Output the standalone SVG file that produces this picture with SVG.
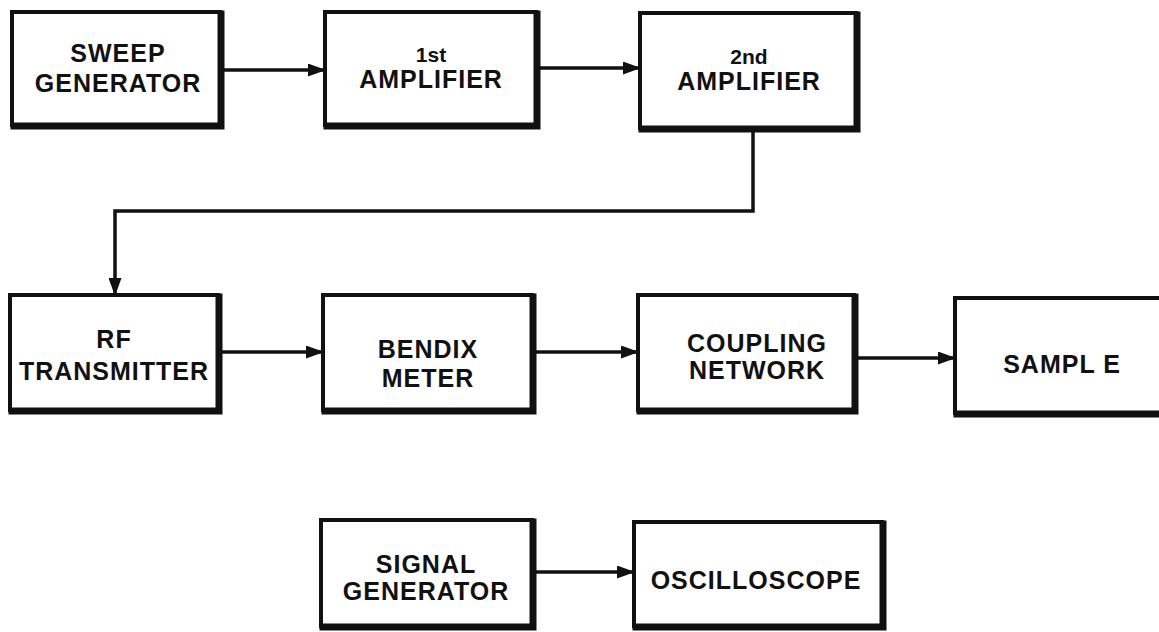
<svg xmlns="http://www.w3.org/2000/svg" width="1159" height="632" viewBox="0 0 1159 632">
<style>
.box{fill:#fff;stroke:#111;stroke-width:4}
.sh{fill:none;stroke:#111;stroke-width:7;stroke-linecap:square}
.t{font-family:"Liberation Sans",Arial,sans-serif;font-weight:bold;font-size:25px;fill:#111;text-anchor:middle;letter-spacing:1px}
.s{font-size:21px;letter-spacing:0}
.c{fill:none;stroke:#111;stroke-width:3.5}
</style>
<defs>
<marker id="ah" viewBox="0 0 18 13" refX="17" refY="6.5" markerWidth="18" markerHeight="13" markerUnits="userSpaceOnUse" orient="auto">
<path d="M0,0 L18,6.5 L0,13 Z" fill="#111"/>
</marker>
</defs>
<rect width="1159" height="632" fill="#fff"/>
<g id="connectors">
<line class="c" x1="222" y1="70" x2="325" y2="70" marker-end="url(#ah)"/>
<line class="c" x1="538" y1="68" x2="640" y2="68" marker-end="url(#ah)"/>
<polyline class="c" points="753,130 753,211 115,211 115,295" marker-end="url(#ah)"/>
<line class="c" x1="220" y1="352" x2="323" y2="352" marker-end="url(#ah)"/>
<line class="c" x1="534" y1="352" x2="638" y2="352" marker-end="url(#ah)"/>
<line class="c" x1="856" y1="358" x2="955" y2="358" marker-end="url(#ah)"/>
<line class="c" x1="533" y1="572" x2="634" y2="572" marker-end="url(#ah)"/>
</g>
<g id="sweep">
<rect class="box" x="12" y="12" width="208" height="113"/>
<polyline class="sh" points="221,14 221,126 14,126"/>
<text class="t" x="118" y="62">SWEEP</text>
<text class="t" x="118" y="92">GENERATOR</text>
</g>
<g id="amp1">
<rect class="box" x="325" y="12" width="211" height="113"/>
<polyline class="sh" points="537,14 537,126 327,126"/>
<text class="t s" x="431" y="62">1st</text>
<text class="t" x="431" y="88">AMPLIFIER</text>
</g>
<g id="amp2">
<rect class="box" x="640" y="13" width="216" height="115"/>
<polyline class="sh" points="857,15 857,129 642,129"/>
<text class="t s" x="749" y="64">2nd</text>
<text class="t" x="749" y="90">AMPLIFIER</text>
</g>
<g id="rf">
<rect class="box" x="10" y="295" width="208" height="115"/>
<polyline class="sh" points="219,297 219,411 12,411"/>
<text class="t" x="114" y="348">RF</text>
<text class="t" x="114" y="380">TRANSMITTER</text>
</g>
<g id="bendix">
<rect class="box" x="323" y="295" width="209" height="115"/>
<polyline class="sh" points="533,297 533,411 325,411"/>
<text class="t" x="428" y="358">BENDIX</text>
<text class="t" x="428" y="387">METER</text>
</g>
<g id="coupling">
<rect class="box" x="638" y="295" width="216" height="115"/>
<polyline class="sh" points="855,297 855,411 640,411"/>
<text class="t" x="757" y="352">COUPLING</text>
<text class="t" x="757" y="379">NETWORK</text>
</g>
<g id="sample">
<rect class="box" x="955" y="298" width="220" height="115"/>
<polyline class="sh" points="957,414 1165,414"/>
<text class="t" x="1062" y="373">SAMPL E</text>
</g>
<g id="siggen">
<rect class="box" x="321" y="520" width="211" height="106"/>
<polyline class="sh" points="533,522 533,627 323,627"/>
<text class="t" x="426" y="573">SIGNAL</text>
<text class="t" x="426" y="600">GENERATOR</text>
</g>
<g id="scope">
<rect class="box" x="634" y="522" width="248" height="104"/>
<polyline class="sh" points="883,524 883,627 636,627"/>
<text class="t" x="756" y="589">OSCILLOSCOPE</text>
</g>
</svg>
